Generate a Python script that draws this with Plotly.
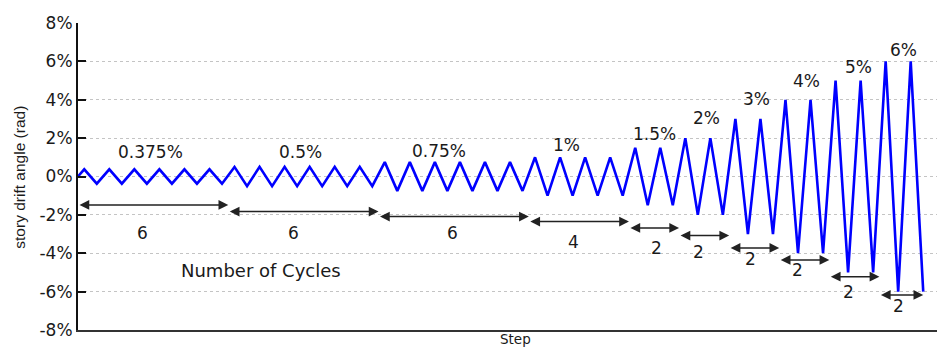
import plotly.graph_objects as go

# Loading protocol: drift amplitude (%) and number of cycles per level
amplitudes = [0.375, 0.5, 0.75, 1, 1.5, 2, 3, 4, 5, 6]
cycles = [6, 6, 6, 4, 2, 2, 2, 2, 2, 2]
amp_labels = ["0.375%", "0.5%", "0.75%", "1%", "1.5%", "2%", "3%", "4%", "5%", "6%"]
cycle_labels = ["6", "6", "6", "4", "2", "2", "2", "2", "2", "2"]
y_ticks = [-8, -6, -4, -2, 0, 2, 4, 6, 8]
y_tick_text = ["-8%", "-6%", "-4%", "-2%", "0%", "2%", "4%", "6%", "8%"]

# Build the triangular drift history: each cycle peaks at +a then dips to -a
xs, ys = [0.0], [0.0]
c = 0
for a, n in zip(amplitudes, cycles):
    for _ in range(n):
        xs += [c + 0.25, c + 0.75]
        ys += [a, -a]
        c += 1

FONT = "DejaVu Sans, Liberation Sans, Arial, sans-serif"
TITLE_FONT = "Liberation Sans Narrow, Liberation Sans, Arial, sans-serif"
TXT = "#1a1a1a"

fig = go.Figure()
fig.add_trace(go.Scatter(x=xs, y=ys, mode="lines",
                         line=dict(color="#0000ff", width=2.6),
                         hoverinfo="skip", showlegend=False))

# Placement of amplitude labels above the peaks
amp_lx = [2.9, 8.87, 14.4, 19.5, 23.0, 25.1, 27.1, 29.1, 31.15, 32.95]
amp_ly = [1.29, 1.29, 1.34, 1.65, 2.23, 3.06, 4.05, 4.99, 5.72, 6.61]
annotations = []
for t, lx, ly in zip(amp_labels, amp_lx, amp_ly):
    annotations.append(dict(x=lx, y=ly, xref="x", yref="y", text=t, showarrow=False,
                            font=dict(family=FONT, size=17, color=TXT)))

# Double-headed arrows spanning each amplitude group
arrow_y = [-1.48, -1.83, -2.09, -2.35, -2.68, -3.08, -3.72, -4.35, -5.22, -6.17]
starts = []
s = 0
for n in cycles:
    starts.append(s)
    s += n
ends = [st + n for st, n in zip(starts, cycles)]
ends[-1] = xs[-1]
for x0, x1, ay in zip(starts, ends, arrow_y):
    annotations.append(dict(x=x1, y=ay, ax=x0, ay=ay, xref="x", yref="y",
                            axref="x", ayref="y", text="", showarrow=True,
                            arrowhead=2, startarrowhead=2, arrowside="end+start",
                            arrowsize=1.3, startarrowsize=1.3, arrowwidth=1.5,
                            arrowcolor="#222222", standoff=0, startstandoff=0))

# Cycle-count labels under the arrows
cnt_lx = [2.56, 8.59, 14.94, 19.77, 23.08, 24.76, 26.84, 28.71, 30.75, 32.75]
cnt_ly = [-2.94, -2.94, -2.94, -3.41, -3.72, -3.93, -4.29, -4.87, -6.01, -6.75]
for t, lx, ly in zip(cycle_labels, cnt_lx, cnt_ly):
    annotations.append(dict(x=lx, y=ly, xref="x", yref="y", text=t, showarrow=False,
                            font=dict(family=FONT, size=17, color=TXT)))

annotations.append(dict(x=7.3, y=-4.92, xref="x", yref="y", text="Number of Cycles",
                        showarrow=False, font=dict(family=FONT, size=18, color=TXT)))
annotations.append(dict(x=17.45, y=0, xref="x", yref="paper", yanchor="top", yshift=0,
                        text="Step", showarrow=False, borderpad=0,
                        font=dict(family=FONT, size=13.5, color=TXT)))
# Vertical axis title
annotations.append(dict(x=-0.068, y=0.498, xref="paper", yref="paper",
                        xanchor="center", yanchor="middle", textangle=-90,
                        text="story drift angle (rad)", showarrow=False,
                        font=dict(family=TITLE_FONT, size=15.5, color=TXT)))

fig.update_layout(
    width=937, height=347,
    margin=dict(l=78, r=0, t=23, b=17),
    paper_bgcolor="white", plot_bgcolor="white",
    showlegend=False,
    annotations=annotations,
    xaxis=dict(range=[0, 34.3], showticklabels=False, ticks="", showgrid=False,
               zeroline=False, showline=True, linecolor="#333333", linewidth=2),
    yaxis=dict(range=[-8, 8], tickvals=y_ticks, ticktext=y_tick_text,
               ticks="inside", ticklen=8, tickwidth=1.5, tickcolor="#111111",
               tickfont=dict(family=FONT, size=17, color=TXT),
               showgrid=True, gridcolor="#c4c4c4", griddash="dot", gridwidth=1,
               zeroline=False, showline=True, linecolor="#111111", linewidth=2),
)

fig.write_html("out.html")
